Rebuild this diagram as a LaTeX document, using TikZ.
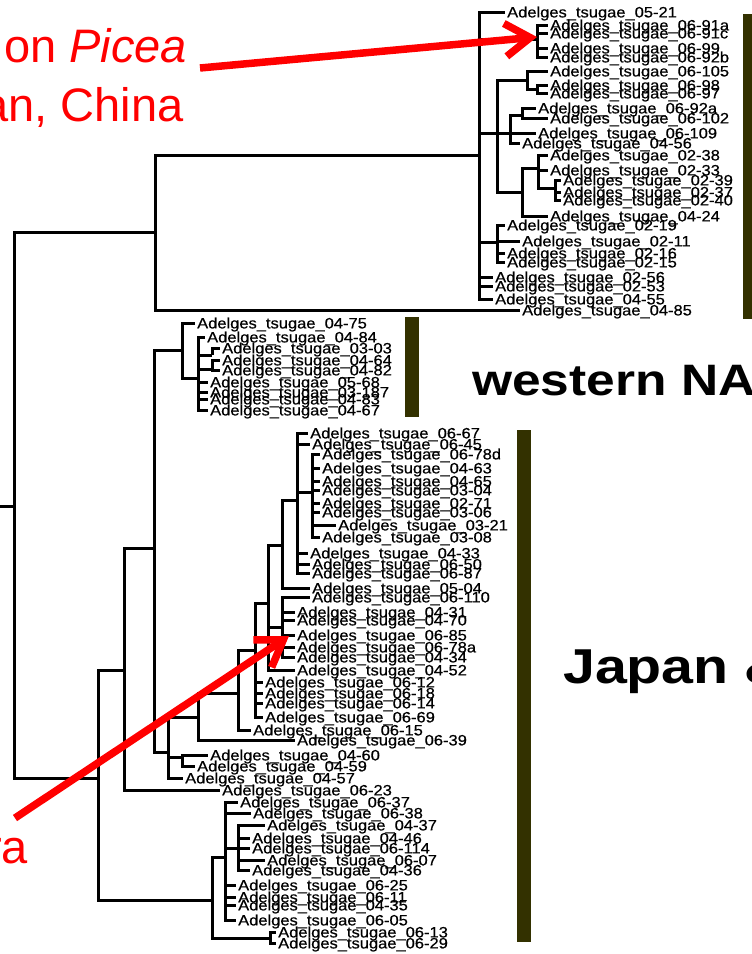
\documentclass[tikz,border=0pt]{standalone}
\usepackage{fontspec}
\setmainfont{Liberation Sans}
\newfontfamily\lblfont[FakeBold=0.5]{Liberation Sans}
\usepackage{graphicx}
\usetikzlibrary{arrows.meta}
\definecolor{barcol}{RGB}{51,49,0}
\definecolor{redc}{RGB}{255,0,0}
\tikzset{
  branch/.style={draw=black, line width=3pt},
  lbl/.style={anchor=west, inner xsep=2.5pt, inner ysep=0pt, text height=10.8pt, text depth=0pt, font=\lblfont\fontsize{15}{15}\selectfont},
  cladebar/.style={fill=barcol},
  bigtext/.style={anchor=base west, inner sep=0pt, font=\bfseries\fontsize{44}{44}\selectfont},
  note/.style={anchor=base west, inner sep=0pt, text=redc, font=\fontsize{47}{47}\selectfont},
  pointer/.style={draw=redc, line width=7.5pt, -{Straight Barb[length=25pt,width=33pt]}},
}
\newcommand\tipnode[4]{\node[lbl] (#1) at ({#2-2.5},#3) {\scalebox{1.10}[1]{Adelges\_tsugae\_#4}};}
\newcommand\ebr[2]{\draw[branch] (#1) |- (#2);}
\newcommand\etip[2]{\draw[branch] (#1) |- (#2.west);}
\begin{document}
\begin{tikzpicture}[x=1pt,y=-1pt]
\useasboundingbox (0,0) rectangle (752,954);
\clip (0,0) rectangle (752,954);
\fill[white] (0,0) rectangle (752,954);

% ---------- leaves: top clade ----------
\tipnode{t0521}{507}{12}{05-21}
\tipnode{t0691a}{550}{25}{06-91a}
\tipnode{t0691c}{550}{33}{06-91c}
\tipnode{t0699}{550}{48}{06-99}
\tipnode{t0692b}{550}{57}{06-92b}
\tipnode{t06105}{550}{71}{06-105}
\tipnode{t0698}{550}{85}{06-98}
\tipnode{t0697}{550}{93}{06-97}
\tipnode{t0692a}{538}{108}{06-92a}
\tipnode{t06102}{550}{118}{06-102}
\tipnode{t06109}{538}{133}{06-109}
\tipnode{t0456}{522}{143}{04-56}
\tipnode{t0238}{550}{155}{02-38}
\tipnode{t0233}{550}{170}{02-33}
\tipnode{t0239}{563}{180}{02-39}
\tipnode{t0237}{563}{192}{02-37}
\tipnode{t0240}{563}{200}{02-40}
\tipnode{t0424}{550}{216}{04-24}
\tipnode{t0219}{507}{225}{02-19}
\tipnode{t0211}{522}{241}{02-11}
\tipnode{t0216}{507}{253}{02-16}
\tipnode{t0215}{507}{262}{02-15}
\tipnode{t0256}{495}{277}{02-56}
\tipnode{t0253}{495}{286}{02-53}
\tipnode{t0455}{495}{299}{04-55}
\tipnode{t0485}{522}{310}{04-85}

% ---------- leaves: western NA clade ----------
\tipnode{m0475}{197}{323}{04-75}
\tipnode{m0484}{207}{337}{04-84}
\tipnode{m0303}{222}{348}{03-03}
\tipnode{m0464}{222}{360}{04-64}
\tipnode{m0482}{222}{370}{04-82}
\tipnode{m0568}{210}{382}{05-68}
\tipnode{m03187}{210}{392}{03-187}
\tipnode{m0483}{210}{399}{04-83}
\tipnode{m0467}{210}{410}{04-67}

% ---------- leaves: Japan clade ----------
\tipnode{j0667}{310}{433}{06-67}
\tipnode{j0645}{312}{444}{06-45}
\tipnode{j0678d}{322}{454}{06-78d}
\tipnode{j0463}{322}{468}{04-63}
\tipnode{j0465}{322}{481}{04-65}
\tipnode{j0304}{322}{490}{03-04}
\tipnode{j0271}{322}{503}{02-71}
\tipnode{j0306}{322}{512}{03-06}
\tipnode{j0321}{338}{525}{03-21}
\tipnode{j0308}{322}{537}{03-08}
\tipnode{j0433}{310}{553}{04-33}
\tipnode{j0650}{312}{564}{06-50}
\tipnode{j0687}{312}{573}{06-87}
\tipnode{j0504}{312}{588}{05-04}
\tipnode{j06110}{312}{597}{06-110}
\tipnode{j0431}{297}{612}{04-31}
\tipnode{j0470}{297}{620}{04-70}
\tipnode{j0685}{297}{635}{06-85}
\tipnode{j0678a}{297}{647}{06-78a}
\tipnode{j0434}{297}{657}{04-34}
\tipnode{j0452}{297}{670}{04-52}
\tipnode{j0612}{265}{682}{06-12}
\tipnode{j0618}{265}{693}{06-18}
\tipnode{j0614}{265}{703}{06-14}
\tipnode{j0669}{265}{717}{06-69}
\tipnode{j0615}{253}{730}{06-15}
\tipnode{j0639}{297}{740}{06-39}
\tipnode{j0460}{210}{755}{04-60}
\tipnode{j0459}{197}{766}{04-59}
\tipnode{j0457}{185}{778}{04-57}
\tipnode{j0623}{222}{790}{06-23}
\tipnode{j0637}{240}{802}{06-37}
\tipnode{j0638}{253}{813}{06-38}
\tipnode{j0437}{267}{825}{04-37}
\tipnode{j0446}{252}{838}{04-46}
\tipnode{j06114}{252}{848}{06-114}
\tipnode{j0607}{267}{860}{06-07}
\tipnode{j0436}{252}{870}{04-36}
\tipnode{j0625}{238}{885}{06-25}
\tipnode{j0611}{238}{897}{06-11}
\tipnode{j0435}{238}{905}{04-35}
\tipnode{j0605}{238}{920}{06-05}
\tipnode{j0613}{278}{932}{06-13}
\tipnode{j0629}{278}{943}{06-29}

% ---------- internal nodes ----------
\coordinate (rootstub) at (0,506);
\coordinate (R0) at (14,506);
\coordinate (R1) at (155,232);
\coordinate (A) at (479,155);
\coordinate (G1) at (537,39);
\coordinate (B) at (497,133);
\coordinate (T) at (527,80);
\coordinate (U) at (537,89);
\coordinate (D) at (510,133);
\coordinate (D2) at (522,115);
\coordinate (P) at (522,192);
\coordinate (Q) at (538,168);
\coordinate (S) at (555,188);
\coordinate (C2) at (497,242);
\coordinate (E) at (98,778);
\coordinate (F) at (124,670);
\coordinate (G) at (154,548);
\coordinate (H) at (182,350);
\coordinate (V) at (198,378);
\coordinate (W1) at (212,355);
\coordinate (W2) at (212,369);
\coordinate (I) at (168,752);
\coordinate (K) at (182,757);
\coordinate (J) at (198,717);
\coordinate (L) at (238,693);
\coordinate (M) at (255,650);
\coordinate (N) at (268,603);
\coordinate (O) at (282,545);
\coordinate (PP) at (282,627);
\coordinate (X1) at (297,500);
\coordinate (X2) at (312,492);
\coordinate (Y1) at (212,900);
\coordinate (Y2) at (225,857);
\coordinate (Y4) at (238,848);
\coordinate (Y3) at (270,938);

% ---------- branches ----------
\draw[branch] (rootstub) -- (R0);
\ebr{R0}{R1} \ebr{R0}{E}
\ebr{R1}{A} \etip{R1}{t0485}
\etip{A}{t0521} \ebr{A}{G1} \ebr{A}{B} \ebr{A}{C2}
\etip{A}{t0256} \etip{A}{t0253} \etip{A}{t0455}
\etip{G1}{t0691a} \etip{G1}{t0691c} \etip{G1}{t0699} \etip{G1}{t0692b}
\ebr{B}{T} \ebr{B}{D} \ebr{B}{P}
\etip{T}{t06105} \ebr{T}{U}
\etip{U}{t0698} \etip{U}{t0697}
\ebr{D}{D2} \etip{D}{t06109} \etip{D}{t0456}
\etip{D2}{t0692a} \etip{D2}{t06102}
\ebr{P}{Q} \etip{P}{t0424}
\etip{Q}{t0238} \etip{Q}{t0233} \ebr{Q}{S}
\etip{S}{t0239} \etip{S}{t0237} \etip{S}{t0240}
\etip{C2}{t0219} \etip{C2}{t0211} \etip{C2}{t0216} \etip{C2}{t0215}

\ebr{E}{F} \ebr{E}{Y1}
\ebr{F}{G} \etip{F}{j0623}
\ebr{G}{H} \ebr{G}{I}
\etip{H}{m0475} \ebr{H}{V}
\etip{V}{m0484} \ebr{V}{W1} \ebr{V}{W2}
\etip{V}{m0568} \etip{V}{m03187} \etip{V}{m0483} \etip{V}{m0467}
\etip{W1}{m0303}
\etip{W2}{m0464} \etip{W2}{m0482}

\ebr{I}{J} \ebr{I}{K} \etip{I}{j0457}
\etip{K}{j0460} \etip{K}{j0459}
\ebr{J}{L} \etip{J}{j0639}
\ebr{L}{M} \etip{L}{j0615}
\ebr{M}{N} \etip{M}{j0612} \etip{M}{j0618} \etip{M}{j0614} \etip{M}{j0669}
\ebr{N}{O} \ebr{N}{PP} \etip{N}{j0452}
\ebr{O}{X1} \etip{O}{j0504}
\etip{PP}{j06110} \etip{PP}{j0431} \etip{PP}{j0470} \etip{PP}{j0685} \etip{PP}{j0678a} \etip{PP}{j0434}
\etip{X1}{j0667} \etip{X1}{j0645} \ebr{X1}{X2} \etip{X1}{j0433} \etip{X1}{j0650} \etip{X1}{j0687}
\etip{X2}{j0678d} \etip{X2}{j0463} \etip{X2}{j0465} \etip{X2}{j0304}
\etip{X2}{j0271} \etip{X2}{j0306} \etip{X2}{j0321} \etip{X2}{j0308}
\ebr{Y1}{Y2} \ebr{Y1}{Y3}
\etip{Y2}{j0637} \etip{Y2}{j0638} \ebr{Y2}{Y4}
\etip{Y2}{j0625} \etip{Y2}{j0611} \etip{Y2}{j0435} \etip{Y2}{j0605}
\etip{Y4}{j0437} \etip{Y4}{j0446} \etip{Y4}{j06114} \etip{Y4}{j0607} \etip{Y4}{j0436}
\etip{Y3}{j0613} \etip{Y3}{j0629}

% ---------- clade bars ----------
\fill[cladebar] (743,14) rectangle (752,319);
\fill[cladebar] (405,317) rectangle (419,417);
\fill[cladebar] (517,430) rectangle (531,942);

% ---------- clade names ----------
\node[bigtext] (wna) at (472,395) {\scalebox{1.17}[1]{western NA}};
\node[bigtext, font=\bfseries\fontsize{49}{49}\selectfont] (jap) at (563,683) {\scalebox{1.17}[1]{Japan \&}};

% ---------- red notes and arrows ----------
\node[note] (picea) at (4,62) {on \textit{Picea}};
\node[note] (china) at (-18,121) {an, China};
\node[note] (ra) at (-14,863) {ra};
\coordinate (a1s) at (200,68);
\coordinate (a1e) at (537,37);
\coordinate (a2s) at (15,818);
\coordinate (a2e) at (289,636);
\draw[pointer] (a1s) -- (a1e);
\draw[pointer] (a2s) -- (a2e);
\end{tikzpicture}
\end{document}
